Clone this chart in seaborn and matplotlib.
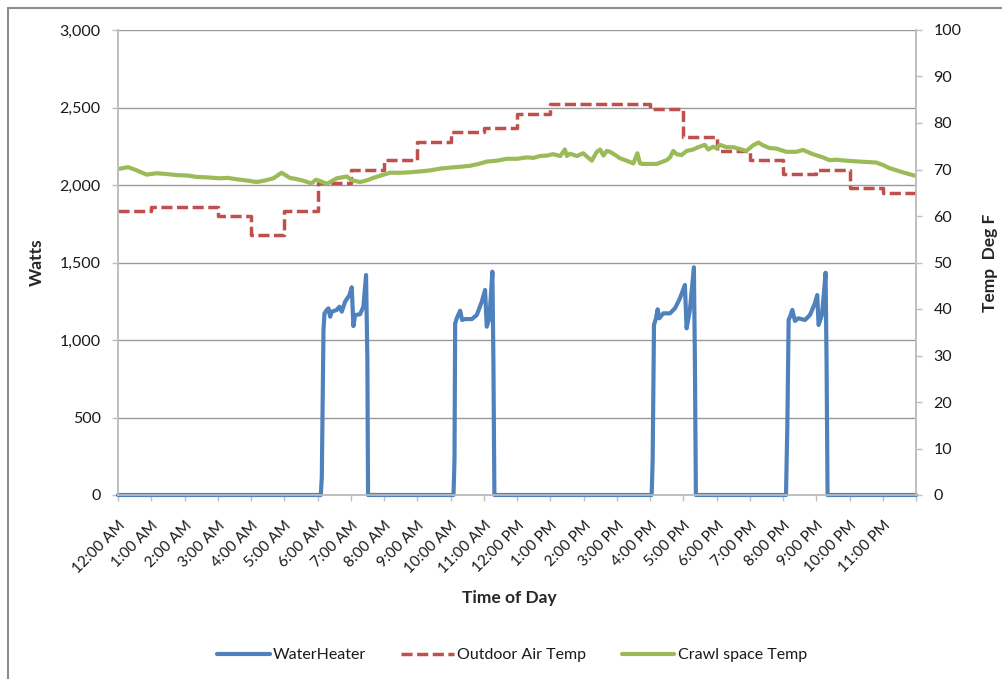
import numpy as np
import pandas as pd
import matplotlib
matplotlib.use("Agg")
import matplotlib.pyplot as plt
import matplotlib.transforms as mtransforms
from matplotlib.lines import Line2D
import seaborn as sns

# Water heater power (hour of day, watts)
wh_hours = [
    0.0, 6.10, 6.13, 6.18, 6.21, 6.28, 6.33, 6.38, 6.43, 6.58, 6.66, 6.73,
    6.83, 6.96, 7.03, 7.08, 7.13, 7.28, 7.38, 7.46, 7.50, 7.52,
    10.09, 10.12, 10.14, 10.20, 10.29, 10.35, 10.44, 10.64, 10.79, 10.94,
    11.04, 11.09, 11.17, 11.26, 11.29, 11.32,
    16.05, 16.08, 16.12, 16.18, 16.23, 16.28, 16.40, 16.60, 16.75, 16.90,
    17.05, 17.10, 17.20, 17.32, 17.35, 17.38,
    20.09, 20.13, 20.17, 20.23, 20.28, 20.36, 20.46, 20.66, 20.81, 20.96,
    21.03, 21.07, 21.17, 21.23, 21.28, 21.31, 21.34, 24.0,
]
wh_watts = [
    0, 0, 118, 1065, 1172, 1194, 1204, 1150, 1183, 1194, 1215, 1183,
    1247, 1290, 1340, 1090, 1161, 1166, 1215, 1419, 871, 0,
    0, 226, 1108, 1146, 1189, 1129, 1135, 1135, 1161, 1247,
    1323, 1086, 1140, 1441, 871, 0,
    0, 226, 1097, 1140, 1198, 1140, 1172, 1172, 1204, 1269,
    1355, 1075, 1194, 1469, 871, 0,
    0, 441, 1129, 1161, 1194, 1123, 1140, 1129, 1161, 1237,
    1290, 1097, 1161, 1301, 1434, 871, 0, 0,
]

# Outdoor air temperature, hourly readings (deg F)
oat_hours = list(range(24))
oat_temp = [61, 62, 62, 60, 56, 61, 67, 70, 72, 76, 78, 79,
            82, 84, 84, 84, 83, 77, 74, 72, 69, 70, 66, 65]

# Crawl space temperature (hour, deg F)
crawl_hours = [
    0.0, 0.3, 0.5, 0.86, 1.16, 1.5, 1.76, 2.1, 2.37, 2.7, 3.07, 3.3, 3.57,
    3.9, 4.17, 4.4, 4.67, 4.92, 5.17, 5.4, 5.57, 5.82, 5.95, 6.05, 6.28,
    6.45, 6.58, 6.88, 7.03, 7.28, 7.5, 7.68, 7.9, 8.18, 8.5, 8.78, 9.1,
    9.38, 9.7, 9.98, 10.3, 10.59, 10.85, 11.09, 11.4, 11.69, 12.0, 12.29,
    12.5, 12.69, 12.9, 13.09, 13.3, 13.44, 13.5, 13.59, 13.8, 13.99, 14.1,
    14.25, 14.4, 14.5, 14.6, 14.7, 14.8, 15.0, 15.1, 15.3, 15.5, 15.62,
    15.7, 15.78, 16.2, 16.5, 16.6, 16.7, 16.8, 16.95, 17.1, 17.3, 17.45,
    17.65, 17.75, 17.9, 18.0, 18.1, 18.3, 18.5, 18.7, 18.9, 19.1, 19.26,
    19.4, 19.6, 19.8, 20.1, 20.4, 20.6, 20.9, 21.2, 21.4, 21.6, 21.9, 22.3,
    22.8, 23.0, 23.2, 23.6, 24.0,
]
crawl_temp = [
    70.1, 70.5, 70.0, 68.9, 69.2, 69.0, 68.8, 68.7, 68.4, 68.3, 68.1, 68.2, 67.9,
    67.6, 67.3, 67.6, 68.1, 69.3, 68.2, 67.9, 67.6, 67.0, 67.8, 67.6, 66.9,
    67.6, 68.1, 68.5, 67.7, 67.3, 67.7, 68.2, 68.7, 69.3, 69.3, 69.4, 69.6,
    69.8, 70.2, 70.4, 70.6, 70.8, 71.2, 71.7, 71.9, 72.3, 72.3, 72.6,
    72.5, 72.9, 73.0, 73.3, 72.9, 74.3, 72.9, 73.4, 72.9, 73.5, 72.8,
    71.9, 73.8, 74.3, 73.0, 74.0, 73.8, 72.9, 72.4, 71.9, 71.3, 73.5,
    71.3, 71.2, 71.2, 72.0, 72.6, 74.0, 73.3, 73.1, 74.0, 74.3, 74.8,
    75.3, 74.3, 74.9, 74.6, 75.3, 74.8, 74.8, 74.4, 74.0, 75.2, 75.8,
    75.2, 74.6, 74.5, 73.8, 73.8, 74.2, 73.3, 72.6, 72.0, 72.1, 71.9, 71.7,
    71.5, 71.0, 70.3, 69.4, 68.6,
]

tick_labels = [f"{(h % 12) or 12}:00 {'AM' if h < 12 else 'PM'}" for h in range(24)]

BLUE = "#4F81BD"
RED = "#C0504D"
GREEN = "#9BBB59"
GRID = "#999999"
AXIS = "#BFBFBF"

sns.set_style("white")
plt.rcParams["font.family"] = ["Lato", "DejaVu Sans"]
plt.rcParams["text.color"] = "#1a1a1a"

wh_df = pd.DataFrame({"hour": wh_hours, "watts": wh_watts})
# repeat last hourly reading so the step reaches midnight
oat_df = pd.DataFrame({"hour": oat_hours + [24], "temp": oat_temp + [oat_temp[-1]]})
crawl_df = pd.DataFrame({"hour": crawl_hours, "temp": crawl_temp})

fig = plt.figure(figsize=(10.02, 6.79), dpi=100)
ax = fig.add_axes([118 / 1002, 1 - 495 / 679, 798 / 1002, 465 / 679])
ax2 = ax.twinx()

sns.lineplot(data=wh_df, x="hour", y="watts", ax=ax, color=BLUE, lw=3.0,
             estimator=None, sort=False, legend=False)
sns.lineplot(data=oat_df, x="hour", y="temp", ax=ax2, color=RED, lw=2.5,
             estimator=None, legend=False, drawstyle="steps-post",
             linestyle=(0, (3.2, 1.3)))
sns.lineplot(data=crawl_df, x="hour", y="temp", ax=ax2, color=GREEN, lw=3.0,
             estimator=None, sort=False, legend=False)
h_wh, h_oat, h_crawl = ax.lines[0], ax2.lines[0], ax2.lines[1]
h_wh.set_solid_capstyle("round")
h_wh.set_clip_on(False)
h_wh.set_zorder(5)
h_crawl.set_solid_capstyle("round")

# left axis
ax.set_xlim(0, 24)
ax.set_ylim(0, 3000)
ax.set_yticks(range(0, 3001, 500))
ax.set_yticklabels([f"{v:,}" for v in range(0, 3001, 500)])
ax.yaxis.grid(True, color=GRID, lw=1.0)
ax.set_axisbelow(True)
ax.set_xticks(range(25))
ax.set_xticklabels(tick_labels + [""], rotation=45, ha="right", va="center",
                   rotation_mode="anchor")
ax.tick_params(axis="x", direction="out", length=4.5, width=1, color=AXIS,
               pad=12.5, labelsize=11, labelcolor="#1a1a1a", bottom=True)
ax.tick_params(axis="y", direction="out", length=4.5, width=1, color=AXIS,
               pad=8, labelsize=11.5, labelcolor="#1a1a1a", left=True)
# nudge rotated labels so their ends sit just right of and below each tick
shift = mtransforms.ScaledTranslation(5 / 100, -5 / 100, fig.dpi_scale_trans)
for lbl in ax.get_xticklabels():
    lbl.set_transform(lbl.get_transform() + shift)

# right axis
ax2.set_ylim(0, 100)
ax2.set_yticks(range(0, 101, 10))
ax2.tick_params(axis="y", direction="out", length=4.5, width=1, color=AXIS,
                pad=8, labelsize=11.5, labelcolor="#1a1a1a", right=True)
ax2.grid(False)

for a in (ax, ax2):
    a.spines["top"].set_visible(False)
    for side in ("left", "right", "bottom"):
        a.spines[side].set_color(AXIS)
        a.spines[side].set_linewidth(1.2)

ax.set_xlabel("Time of Day", fontsize=12.5, fontweight="bold")
ax.xaxis.set_label_coords((509 - 118) / 798, (495 - 590) / 465)
ax.set_ylabel("Watts", fontsize=12.5, fontweight="bold")
ax.yaxis.set_label_coords((45 - 118) / 798, 0.5)
ax2.set_ylabel("Temp  Deg F", fontsize=12.5, fontweight="bold")
ax2.yaxis.set_label_coords((982 - 118) / 798, 0.5)

fig.legend([h_wh, h_oat, h_crawl],
           ["WaterHeater", "Outdoor Air Temp", "Crawl space Temp"],
           loc="center", bbox_to_anchor=(512 / 1002, 1 - 655 / 679), ncol=3,
           frameon=False, fontsize=11.5, handlelength=3.3, handletextpad=0.2,
           columnspacing=2.2)

# chart area border (partial, as in the screenshot)
fig.add_artist(Line2D([7.5 / 1002, 7.5 / 1002], [0, 1 - 7.5 / 679],
                      transform=fig.transFigure, color="#8c8c8c", lw=1.5))
fig.add_artist(Line2D([7.5 / 1002, 1], [1 - 7.5 / 679, 1 - 7.5 / 679],
                      transform=fig.transFigure, color="#8c8c8c", lw=1.5))

fig.savefig("out.png", dpi=100)
